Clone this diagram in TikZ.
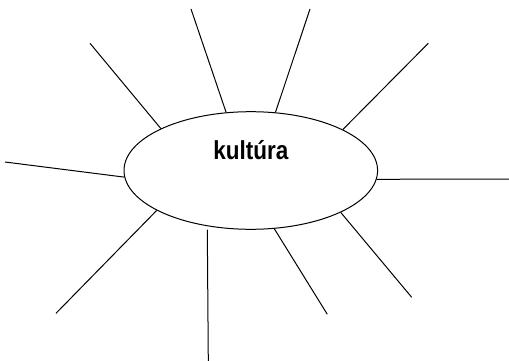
\documentclass[tikz,border=0pt]{standalone}
\usepackage{fontspec}
\setmainfont{Liberation Sans}
\usetikzlibrary{shapes.geometric}
\tikzset{
  ray/.style={draw=black, line width=1pt},
  centerbox/.style={ellipse, draw=black, line width=1pt, minimum width=253.6pt, minimum height=117.6pt, inner sep=0pt},
  lbl/.style={font=\fontsize{26}{30}\selectfont\bfseries, inner sep=0pt, anchor=base}
}
\begin{document}
\begin{tikzpicture}[x=1pt, y=-1pt]
\useasboundingbox (0,0) rectangle (509,361);
\node[centerbox] (k) at (250.8,170.5) {};
\node[lbl] (t) at (250.8,159.3) {\scalebox{0.865}[1]{kultúra}};
\coordinate (e1) at (191,9);
\coordinate (e2) at (310,9);
\coordinate (e3) at (90,43.3);
\coordinate (e4) at (428.3,43.3);
\coordinate (e5) at (5,162);
\coordinate (e6) at (509,179);
\coordinate (e7) at (56,313.3);
\coordinate (e8) at (411.7,297.3);
\coordinate (e9) at (208.3,361);
\coordinate (e10) at (327.3,314.3);
\draw[ray] (k.113.1) -- (e1);
\draw[ray] (k.67) -- (e2);
\draw[ray] (k.155.7) -- (e3);
\draw[ray] (k.24.3) -- (e4);
\draw[ray] (k.183.5) -- (e5);
\draw[ray] (k.356.2) -- (e6);
\draw[ray] (k.203.9) -- (e7);
\draw[ray] (k.335.9) -- (e8);
\draw[ray, shorten <=3.4pt] (k.232.5) -- (e9);
\draw[ray] (k.292.4) -- (e10);
\end{tikzpicture}
\end{document}
